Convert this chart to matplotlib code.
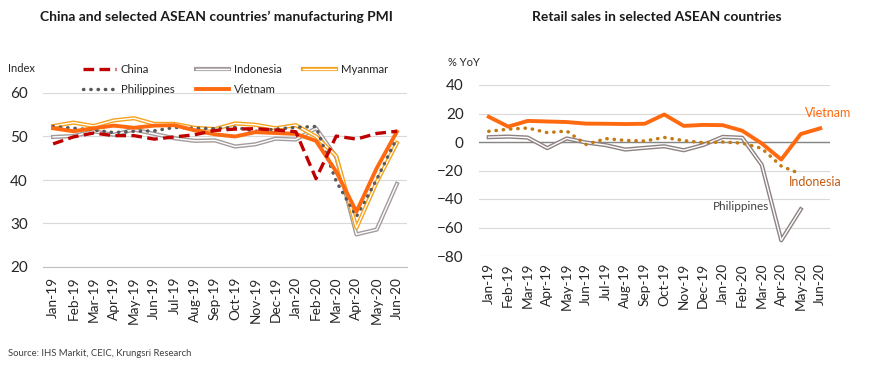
import matplotlib
matplotlib.use('Agg')
import matplotlib.pyplot as plt
from matplotlib.lines import Line2D

plt.rcParams['font.family'] = ['Lato', 'DejaVu Sans']

months = ['Jan-19', 'Feb-19', 'Mar-19', 'Apr-19', 'May-19', 'Jun-19', 'Jul-19', 'Aug-19', 'Sep-19',
          'Oct-19', 'Nov-19', 'Dec-19', 'Jan-20', 'Feb-20', 'Mar-20', 'Apr-20', 'May-20', 'Jun-20']

# manufacturing PMI
pmi_china = [48.3, 49.9, 50.8, 50.2, 50.2, 49.4, 49.9, 50.4, 51.4, 51.7, 51.8, 51.5, 51.1, 40.3, 50.1, 49.4, 50.7, 51.2]
pmi_indonesia = [49.9, 50.1, 51.2, 50.4, 51.6, 50.6, 49.6, 49.0, 49.1, 47.7, 48.2, 49.5, 49.3, 51.9, 45.3, 27.5, 28.6, 39.1]
pmi_myanmar = [52.4, 53.2, 52.4, 53.7, 54.2, 52.9, 52.9, 52.0, 51.7, 53.0, 52.7, 51.9, 52.6, 50.0, 45.5, 29.0, 39.5, 48.5]
pmi_philippines = [52.3, 51.9, 51.5, 50.9, 51.2, 51.3, 52.1, 51.9, 51.8, 52.1, 51.2, 51.7, 52.1, 52.3, 39.7, 31.6, 40.1, 49.7]
pmi_vietnam = [51.9, 51.2, 51.9, 52.5, 52.0, 52.5, 52.6, 51.4, 50.5, 50.0, 51.0, 50.8, 50.6, 49.0, 41.9, 32.7, 42.7, 51.1]

# retail sales % YoY
rs_vietnam = [17.7, 10.8, 14.8, 14.4, 14.0, 12.9, 12.8, 12.6, 12.8, 19.3, 11.3, 12.0, 11.8, 7.9, -1.0, -12.3, 5.6, 9.6]
rs_indonesia = [7.5, 9.0, 9.8, 6.6, 7.7, -1.8, 2.4, 1.1, 0.7, 3.2, 1.0, -0.5, 0.0, -0.8, -4.5, -16.9, -22.5]
rs_philippines = [3.4, 3.8, 3.1, -4.3, 2.5, -0.4, -2.2, -5.3, -4.1, -3.0, -5.8, -2.1, 3.6, 3.0, -16.0, -69.0, -47.2]

fig = plt.figure(figsize=(8.7, 3.66), dpi=100)
ax1 = fig.add_axes([43 / 870, 1 - 267 / 366, 364 / 870, 174 / 366])
ax2 = fig.add_axes([479 / 870, 1 - 256 / 366, 351 / 870, 171 / 366])

x = range(len(months))
txt = '#262626'

# ---- left: PMI
c_china = '#C00000'
c_indo = '#A39B9B'
c_myan = '#F5A21C'
c_phil = '#595959'
c_viet = '#FF6A10'
china_dash = (0, (3.2, 1.6))
dots = (0, (0.1, 2.0))

ax1.plot(x, pmi_indonesia, color=c_indo, lw=3.0, zorder=3)
ax1.plot(x, pmi_indonesia, color='white', lw=1.0, zorder=3)
ax1.plot(x, pmi_myanmar, color=c_myan, lw=3.0, zorder=3)
ax1.plot(x, pmi_myanmar, color='white', lw=1.0, zorder=3)
ax1.plot(x, pmi_philippines, color=c_phil, lw=2.5, linestyle=dots,
         dash_capstyle='round', zorder=4)
ax1.plot(x, pmi_vietnam, color=c_viet, lw=2.8, zorder=5)
ax1.plot(x, pmi_china, color=c_china, lw=2.4, linestyle=china_dash, zorder=6)

ax1.set_xlim(-0.5, len(months) - 0.5)
ax1.set_ylim(20, 60)
ax1.set_yticks([20, 30, 40, 50, 60])
ax1.set_xticks(list(x))
ax1.set_xticklabels(months, rotation=90, fontsize=9.8, color=txt)
ax1.tick_params(axis='x', length=0, pad=7)
ax1.tick_params(axis='y', length=0, pad=11, labelsize=11, labelcolor=txt)
ax1.grid(axis='y', color='#D9D9D9', lw=0.8)
ax1.set_axisbelow(True)
for s in ['top', 'right', 'left']:
    ax1.spines[s].set_visible(False)
ax1.spines['bottom'].set_color('#BFBFBF')

h_china = Line2D([], [], color=c_china, lw=2.4, linestyle=china_dash)
h_indo = (Line2D([], [], color=c_indo, lw=3.0), Line2D([], [], color='white', lw=1.0))
h_myan = (Line2D([], [], color=c_myan, lw=3.0), Line2D([], [], color='white', lw=1.0))
h_phil = Line2D([], [], color=c_phil, lw=2.5, linestyle=dots, dash_capstyle='round')
h_viet = Line2D([], [], color=c_viet, lw=2.8)
fig.legend([h_china, h_phil, h_indo, h_viet, h_myan],
           ['China', 'Philippines', 'Indonesia', 'Vietnam', 'Myanmar'],
           ncol=3, frameon=False, fontsize=8.2, handlelength=2.9, columnspacing=1.85,
           handletextpad=0.45, labelspacing=0.85, loc='upper left', borderpad=0,
           bbox_to_anchor=(77 / 870, 1 - 58 / 366), labelcolor=txt)

fig.text(8 / 870, 1 - 68 / 366, 'Index', fontsize=8, color=txt, va='center')
fig.text(216 / 870, 1 - 17 / 366, 'China and selected ASEAN countries\u2019 manufacturing PMI',
         fontsize=10, fontweight='bold', ha='center', va='center', color='#1a1a1a')

# ---- right: retail sales
c_rs_indo = '#C47A12'
c_rs_phil = '#8E8181'

ax2.plot(range(len(rs_philippines)), rs_philippines, color=c_rs_phil, lw=3.0, zorder=3)
ax2.plot(range(len(rs_philippines)), rs_philippines, color='white', lw=1.0, zorder=3)
ax2.plot(range(len(rs_indonesia)), rs_indonesia, color=c_rs_indo, lw=2.5,
         linestyle=dots, dash_capstyle='round', zorder=4)
ax2.plot(x, rs_vietnam, color=c_viet, lw=2.8, zorder=5)
ax2.axhline(0, color='#868686', lw=1.0, zorder=2)

ax2.set_xlim(-0.5, len(months) - 0.5)
ax2.set_ylim(-80, 40)
ax2.set_yticks([-80, -60, -40, -20, 0, 20, 40])
ax2.set_xticks(list(x))
ax2.set_xticklabels(months, rotation=90, fontsize=9.8, color=txt)
ax2.tick_params(axis='x', length=0, pad=5)
ax2.tick_params(axis='y', length=0, pad=11, labelsize=11, labelcolor=txt)
ax2.grid(axis='y', color='#D9D9D9', lw=0.8)
ax2.set_axisbelow(True)
for s in ax2.spines.values():
    s.set_visible(False)

ax2.text(16.2, 20.3, 'Vietnam', color=c_viet, fontsize=9, ha='left', va='center')
ax2.text(15.4, -27.8, 'Indonesia', color='#C55A11', fontsize=9, ha='left', va='center')
ax2.text(11.5, -45.6, 'Philippines', color='#404040', fontsize=8.5, ha='left', va='center')

fig.text(448 / 870, 1 - 62 / 366, '% YoY', fontsize=8, color=txt, va='center')
fig.text(657 / 870, 1 - 17 / 366, 'Retail sales in selected ASEAN countries',
         fontsize=10, fontweight='bold', ha='center', va='center', color='#1a1a1a')

fig.text(8 / 870, 1 - 354 / 366, 'Source: IHS Markit, CEIC, Krungsri Research',
         fontsize=6.8, color='#404040', va='center')

fig.savefig('out.png', dpi=100, facecolor='white')
